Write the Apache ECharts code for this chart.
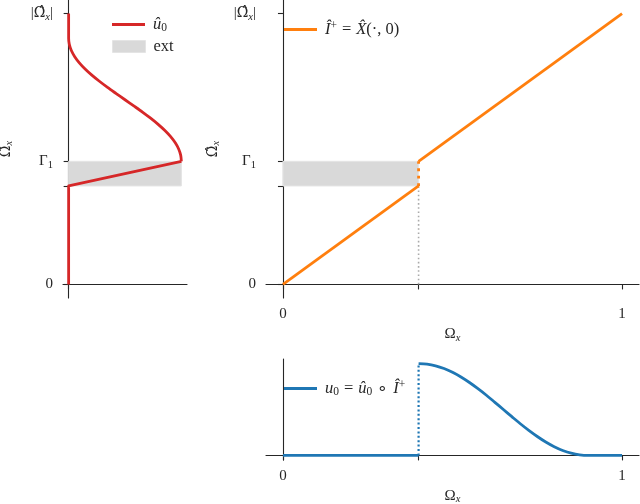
<!DOCTYPE html>
<html><head><meta charset="utf-8">
<script src="https://cdn.jsdelivr.net/npm/echarts@6/dist/echarts.min.js"></script>
<style>html,body{margin:0;padding:0;background:#fff}#c{width:640px;height:504px}</style>
</head><body><div id="c"></div>
<script>
// ---- data ----
const extRange = [0.4, 0.5];           // extension band on Omega-hat
const omegaHatTicks = [0, 0.4, 0.5, 1.1];
const omegaHatTickLabels = ['0', '', 'Γ1', '|Ω̂x|'];
const omegaTicks = [0, 0.4, 1];
const omegaTickLabels = ['0', '', '1'];
// u0-hat: value (x) vs Omega-hat (y); linear ramp then smooth bump
const u0hatRampOmegaHat = [0, 0.4, 0.5];
const u0hatRampValue    = [0, 0,   1];
const u0hatBumpOmegaHat = [0.5, 0.525, 0.55, 0.575, 0.6, 0.625, 0.65, 0.675, 0.7, 0.725, 0.75, 0.775, 0.8, 0.825, 0.85, 0.875, 0.9, 0.925, 0.95, 0.975, 1.0, 1.1];
const u0hatBumpValue    = [1,   0.994, 0.976, 0.946, 0.905, 0.854, 0.794, 0.727, 0.655, 0.578, 0.500, 0.422, 0.345, 0.273, 0.206, 0.146, 0.095, 0.054, 0.024, 0.006, 0,   0];
// I+ map: Omega -> Omega-hat (two pieces)
const iPlusLowX = [0, 0.4];
const iPlusLowY = [0, 0.4];
const iPlusHighX = [0.4, 1];
const iPlusHighY = [0.5, 1.1];
// u0 = u0hat o I+ on Omega
const u0FlatX = [0, 0.4];
const u0FlatY = [0, 0];
const u0CurveX = [0.4, 0.425, 0.45, 0.475, 0.5, 0.525, 0.55, 0.575, 0.6, 0.625, 0.65, 0.675, 0.7, 0.725, 0.75, 0.775, 0.8, 0.825, 0.85, 0.875, 0.9, 1.0];
const u0CurveY = [1,   0.994, 0.976, 0.946, 0.905, 0.854, 0.794, 0.727, 0.655, 0.578, 0.500, 0.422, 0.345, 0.273, 0.206, 0.146, 0.095, 0.054, 0.024, 0.006, 0,   0];
const jumpX = 0.4;

// ---- rendering ----
const SERIF = 'Liberation Serif';
const HATFONT = 'DejaVu Serif';
const INK = '#262626';
const RED = '#d62728', ORANGE = '#ff7f0e', BLUE = '#1f77b4', BAND = '#d9d9d9';
function makeRich(fs) {
  const s = Math.round(fs * 0.7 * 10) / 10, d = Math.round(fs * 0.45);
  return {
    n: {fontFamily: SERIF, fontSize: fs, color: INK},
    h: {fontFamily: HATFONT, fontSize: fs - 1, color: INK},
    i: {fontFamily: SERIF, fontSize: fs, fontStyle: 'italic', color: INK},
    op: {fontFamily: SERIF, fontSize: fs, color: INK, padding: [0, 5, 0, 5]},
    sub: {fontFamily: SERIF, fontSize: s, color: INK, padding: [d, 0, 0, 0]},
    subi: {fontFamily: SERIF, fontSize: s, fontStyle: 'italic', color: INK, padding: [d, 0, 0, 0]},
    sup: {fontFamily: SERIF, fontSize: s, color: INK, padding: [0, 0, d, 0]}
  };
}
const rich = makeRich(15);
const richLegend = makeRich(16.5);
const richText = {
  '0': '{n|0}', '1': '{n|1}', '': '',
  'Γ1': '{n|Γ}{sub|1}',
  '|Ω̂x|': '{n||}{h|Ω̂}{subi|x}{n||}',
  'Ω̂x': '{h|Ω̂}{subi|x}',
  'Ωx': '{n|Ω}{subi|x}',
  'u0hat': '{i|û}{sub|0}',
  'ext': '{n|ext}',
  'Iplus': '{i|Î}{sup|+}{op|=}{i|X̂}{n|(·, 0)}',
  'u0': '{i|u}{sub|0}{op|=}{i|û}{sub|0}{op|∘}{i|Î}{sup|+}'
};
function pairs(xs, ys) { return xs.map((x, k) => [x, ys[k]]); }
function labelFor(ticks, labels) {
  return v => { const k = ticks.findIndex(t => Math.abs(t - v) < 1e-6); return k < 0 ? '' : richText[labels[k]]; };
}
const axisLine = {show: true, lineStyle: {color: INK, width: 1.1}};
const tickStyle = {length: 5, lineStyle: {color: INK, width: 1.1}};

const omegaHatAxis = (grid, name, gap) => ({
  type: 'value', gridIndex: grid, min: -0.055, max: 1.155,
  axisLine, splitLine: {show: false},
  axisTick: Object.assign({show: true, customValues: omegaHatTicks}, tickStyle),
  axisLabel: {show: true, customValues: omegaHatTicks, formatter: labelFor(omegaHatTicks, omegaHatTickLabels), rich, margin: 10},
  name: richText[name], nameLocation: 'middle', nameRotate: 90, nameGap: gap, nameTextStyle: {rich}
});
const omegaAxis = (grid, gap) => ({
  type: 'value', gridIndex: grid, min: -0.05, max: 1.05,
  axisLine, splitLine: {show: false},
  axisTick: Object.assign({show: true, customValues: omegaTicks}, tickStyle),
  axisLabel: {show: true, customValues: omegaTicks, formatter: labelFor(omegaTicks, omegaTickLabels), rich, margin: 9},
  name: richText['Ωx'], nameLocation: 'middle', nameGap: gap, nameTextStyle: {rich}
});
const legendBase = (left, top, name, color, h, extra) => ({
  left, top, itemWidth: 33, itemHeight: h, selectedMode: false,
  data: [{name, icon: 'rect', itemStyle: Object.assign({color}, extra || {})}],
  formatter: n => richText[n], textStyle: {rich: richLegend, padding: [0, 0, 0, 3]}
});

const option = {
  animation: false,
  backgroundColor: '#fff',
  grid: [
    {left: 63, top: 0, width: 124, height: 298, outerBoundsMode: 'none', containLabel: false},
    {left: 266, top: 0, width: 373, height: 298, outerBoundsMode: 'none', containLabel: false},
    {left: 266, top: 359, width: 373, height: 101, outerBoundsMode: 'none', containLabel: false}
  ],
  xAxis: [
    {type: 'value', gridIndex: 0, min: -0.05, max: 1.05, axisLine, splitLine: {show: false},
     axisTick: Object.assign({show: true, customValues: [0]}, tickStyle), axisLabel: {show: false}},
    omegaAxis(1, 27),
    omegaAxis(2, 27)
  ],
  yAxis: [
    omegaHatAxis(0, 'Ω̂x', 48),
    omegaHatAxis(1, 'Ω̂x', 44),
    {type: 'value', gridIndex: 2, min: -0.05, max: 1.05, axisLine, splitLine: {show: false}, axisTick: {show: false}, axisLabel: {show: false}}
  ],
  legend: [
    legendBase(107, 11, 'u0hat', RED, 3),
    legendBase(107, 33, 'ext', BAND, 12, {borderColor: '#e4e4e4', borderWidth: 1}),
    legendBase(279, 15, 'Iplus', ORANGE, 3),
    legendBase(279, 374, 'u0', BLUE, 3)
  ],
  series: [
    // bands
    {name: 'ext', type: 'line', xAxisIndex: 0, yAxisIndex: 0, data: [], itemStyle: {color: BAND}, z: 1,
     markArea: {silent: true, itemStyle: {color: BAND, borderColor: '#e4e4e4', borderWidth: 1},
       data: [[{coord: [0, extRange[0]]}, {coord: [1, extRange[1]]}]]}},
    {name: 'ext', type: 'line', xAxisIndex: 1, yAxisIndex: 1, data: [], itemStyle: {color: BAND}, z: 1,
     markArea: {silent: true, itemStyle: {color: BAND, borderColor: '#e4e4e4', borderWidth: 1},
       data: [[{coord: [0, extRange[0]]}, {coord: [jumpX, extRange[1]]}]]}},
    // left: u0hat
    {name: 'u0hat', type: 'line', xAxisIndex: 0, yAxisIndex: 0, symbol: 'none', z: 3,
     data: pairs(u0hatRampValue, u0hatRampOmegaHat), lineStyle: {color: RED, width: 2.8, join: 'round'}, itemStyle: {color: RED}},
    {name: 'u0hat', type: 'line', xAxisIndex: 0, yAxisIndex: 0, symbol: 'none', z: 3, smooth: 0.3,
     data: pairs(u0hatBumpValue, u0hatBumpOmegaHat), lineStyle: {color: RED, width: 2.8, join: 'round'}, itemStyle: {color: RED}},
    // top-right: I+
    {name: 'gray-dots', type: 'line', xAxisIndex: 1, yAxisIndex: 1, symbol: 'none', z: 2,
     data: [[jumpX, 0], [jumpX, extRange[0]]], lineStyle: {color: '#aaaaaa', width: 1.6, type: [1.6, 2.6]}},
    {name: 'Iplus', type: 'line', xAxisIndex: 1, yAxisIndex: 1, symbol: 'none', z: 3,
     data: pairs(iPlusLowX, iPlusLowY), lineStyle: {color: ORANGE, width: 2.8}, itemStyle: {color: ORANGE}},
    {name: 'Iplus', type: 'line', xAxisIndex: 1, yAxisIndex: 1, symbol: 'none', z: 3,
     data: pairs(iPlusHighX, iPlusHighY), lineStyle: {color: ORANGE, width: 2.8}, itemStyle: {color: ORANGE}},
    {name: 'Iplus', type: 'line', xAxisIndex: 1, yAxisIndex: 1, symbol: 'none', z: 3,
     data: [[jumpX, extRange[0]], [jumpX, extRange[1]]], lineStyle: {color: ORANGE, width: 2.8, type: [2.8, 4.6]}, itemStyle: {color: ORANGE}},
    // bottom: u0
    {name: 'u0', type: 'line', xAxisIndex: 2, yAxisIndex: 2, symbol: 'none', z: 3,
     data: pairs(u0FlatX, u0FlatY), lineStyle: {color: BLUE, width: 2.8}, itemStyle: {color: BLUE}},
    {name: 'u0', type: 'line', xAxisIndex: 2, yAxisIndex: 2, symbol: 'none', z: 3, smooth: 0.3,
     data: pairs(u0CurveX, u0CurveY), lineStyle: {color: BLUE, width: 2.8, join: 'round'}, itemStyle: {color: BLUE}},
    {name: 'u0', type: 'line', xAxisIndex: 2, yAxisIndex: 2, symbol: 'none', z: 3,
     data: [[jumpX, 0], [jumpX, 1]], lineStyle: {color: BLUE, width: 2.2, type: [2, 2.4]}, itemStyle: {color: BLUE}}
  ]
};
const chart = echarts.init(document.getElementById('c'), null, {renderer: 'canvas'});
chart.setOption(option);
</script>
</body></html>
